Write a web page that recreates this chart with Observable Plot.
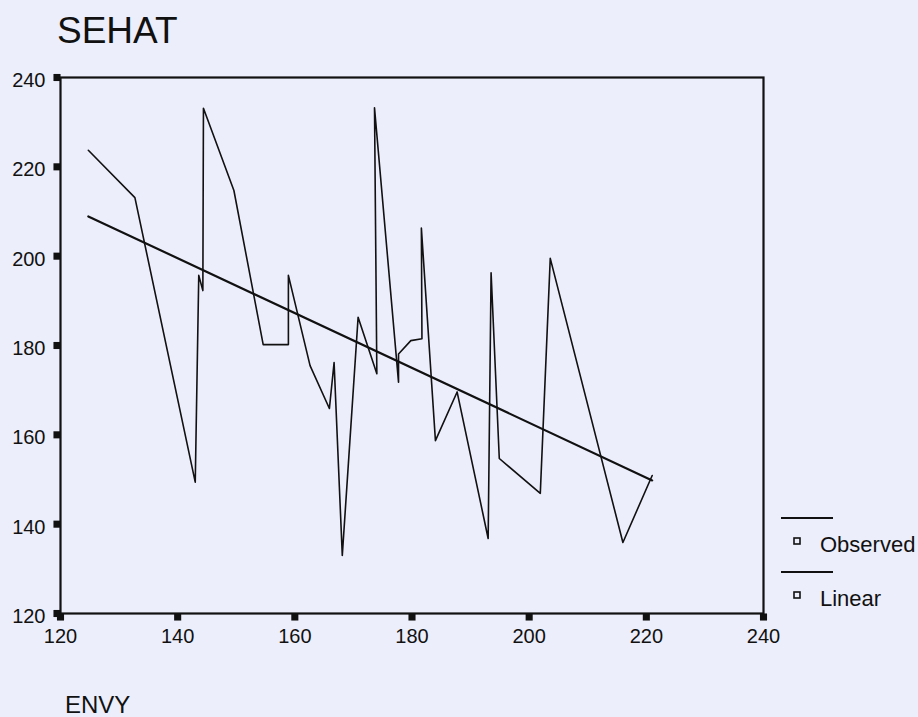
<!DOCTYPE html>
<html>
<head>
<meta charset="utf-8">
<script src="https://cdn.jsdelivr.net/npm/d3@7"></script>
<script src="https://cdn.jsdelivr.net/npm/@observablehq/plot@0.6"></script>
<style>
  html, body { margin: 0; padding: 0; background: #eceefb; }
  #chart svg { display: block; }
</style>
</head>
<body>
<div id="chart"></div>
<script>
// Observed ENVY / SEHAT pairs, in the order the observed line connects them
const envy  = [124.75, 132.7, 143.0, 143.6, 144.3, 144.4, 149.6, 154.6, 158.9, 158.9,
               162.6, 165.9, 166.7, 168.1, 170.8, 174.0, 173.6, 177.7, 177.7, 179.8,
               181.7, 181.6, 184.0, 187.7, 193.0, 193.5, 194.9, 201.9, 203.6, 216.0, 221.0];
const sehat = [223.7, 213.1, 149.4, 195.7, 192.3, 233.1, 214.7, 180.2, 180.2, 195.7,
               175.5, 165.9, 176.2, 133.0, 186.3, 173.7, 233.2, 171.8, 178.1, 181.1,
               181.5, 206.3, 158.7, 169.6, 136.8, 196.3, 154.7, 146.9, 199.5, 135.9, 150.9];

// Linear fit, drawn between its end points
const linearEnvy  = [124.75, 221.0];
const linearSehat = [208.9, 149.8];

const xTicks = [120, 140, 160, 180, 200, 220, 240];
const yTicks = [120, 140, 160, 180, 200, 220, 240];

const titleText  = "SEHAT";
const xLabelText = "ENVY";
const legendLabels = ["Observed", "Linear"];

const observed = envy.map((x, i) => ({x, y: sehat[i]}));
const linear = linearEnvy.map((x, i) => ({x, y: linearSehat[i]}));

const font = "'Liberation Sans', Arial, sans-serif";
const ink = "#111";

const chart = Plot.plot({
  width: 918,
  height: 717,
  marginLeft: 60,
  marginRight: 155,
  marginTop: 77,
  marginBottom: 104,
  style: {background: "transparent", fontFamily: font, color: ink, overflow: "visible"},
  x: {domain: [120, 240]},
  y: {domain: [120, 240]},
  marks: [
    // tick labels (the tick marks themselves are drawn as small squares below)
    Plot.axisX({ticks: xTicks, tickSize: 0, tickPadding: 15, fontSize: 20, label: null, tickFormat: d => String(d)}),
    Plot.axisY({ticks: yTicks, tickSize: 0, tickPadding: 15, fontSize: 20, label: null, dy: 3, tickFormat: d => String(d)}),
    // square tick marks just outside the frame
    Plot.dot(xTicks, {x: d => d, y: 120, symbol: "square", r: 4, dy: 3.5, fill: ink, stroke: null}),
    Plot.dot(yTicks, {x: 120, y: d => d, symbol: "square", r: 4, dx: -3.5, fill: ink, stroke: null}),
    Plot.frame({stroke: ink, strokeWidth: 2.2}),
    Plot.line(linear, {x: "x", y: "y", stroke: ink, strokeWidth: 2.2}),
    Plot.line(observed, {x: "x", y: "y", stroke: ink, strokeWidth: 1.6})
  ]
});

const svg = d3.select(chart);

// Title above the plot
svg.append("text")
  .attr("x", 57).attr("y", 43)
  .attr("text-anchor", "start")
  .attr("font-family", font).attr("font-size", 37)
  .attr("fill", ink)
  .text(titleText);

// Variable name under the x axis
svg.append("text")
  .attr("x", 65).attr("y", 713)
  .attr("text-anchor", "start")
  .attr("font-family", font).attr("font-size", 24)
  .attr("fill", ink)
  .text(xLabelText);

// Legend in the right margin
const legend = svg.append("g")
  .attr("font-family", font).attr("font-size", 22)
  .attr("fill", ink).attr("text-anchor", "start");
legendLabels.forEach((label, i) => {
  const y0 = 518 + i * 54;
  legend.append("line")
    .attr("x1", 781).attr("x2", 833).attr("y1", y0).attr("y2", y0)
    .attr("stroke", ink).attr("stroke-width", 2);
  legend.append("rect")
    .attr("x", 794).attr("y", y0 + 20).attr("width", 6).attr("height", 6)
    .attr("fill", "none").attr("stroke", ink).attr("stroke-width", 1.6);
  legend.append("text")
    .attr("x", 820).attr("y", y0 + 34)
    .attr("text-anchor", "start")
    .text(label);
});

document.getElementById("chart").append(chart);
</script>
</body>
</html>
